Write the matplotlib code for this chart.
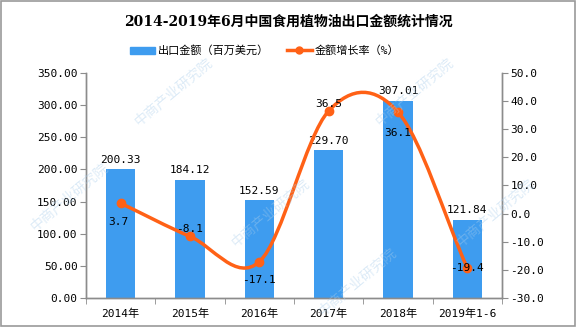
import matplotlib
matplotlib.use("Agg")
import matplotlib.pyplot as plt
from matplotlib.path import Path
from matplotlib.patches import PathPatch, Rectangle
from matplotlib.lines import Line2D
import numpy as np

plt.rcParams['font.family'] = ['DejaVu Sans Mono', 'Noto Sans CJK SC']

categories = ["2014年", "2015年", "2016年", "2017年", "2018年", "2019年1-6"]
export_value = [200.33, 184.12, 152.59, 229.70, 307.01, 121.84]
growth_rate = [3.7, -8.1, -17.1, 36.5, 36.1, -19.4]
left_ticks = [0, 50, 100, 150, 200, 250, 300, 350]
right_ticks = [-30, -20, -10, 0, 10, 20, 30, 40, 50]

bar_color = "#3E9CEF"
line_color = "#FF6116"
axis_color = "#8C8C8C"
fs = 8

fig = plt.figure(figsize=(5.76, 3.27), dpi=100)
ax = fig.add_axes([0.1493, 0.0887, 0.7222, 0.6881])
ax2 = ax.twinx()

x = np.arange(len(categories))
ax.bar(x, export_value, width=0.42, color=bar_color, zorder=2)
for xi, v in zip(x, export_value):
    ax.annotate(f"{v:.2f}", (xi, v), xytext=(0, 3), textcoords="offset points",
                ha="center", va="bottom", fontsize=fs)

ax.set_xlim(-0.5, len(categories) - 0.5)
ax.set_ylim(0, 350)
ax.set_yticks(left_ticks)
ax.set_yticklabels([f"{t:.2f}" for t in left_ticks], fontsize=fs)
ax.set_xticks(x)
ax.set_xticklabels(categories, fontsize=fs)
ax.set_xticks(np.arange(-0.5, len(categories)), minor=True)
ax.tick_params(axis="x", which="major", length=0, pad=8)
ax.tick_params(axis="x", which="minor", length=4, color=axis_color, direction="out")
ax.tick_params(axis="y", length=4, color=axis_color, direction="out", pad=2)

ax2.set_ylim(-30, 50)
ax2.set_yticks(right_ticks)
ax2.set_yticklabels([f"{t:.1f}" for t in right_ticks], fontsize=fs)
ax2.tick_params(axis="y", length=4, color=axis_color, direction="out", pad=2)

for a in (ax, ax2):
    a.spines["top"].set_visible(False)
    for s in ("left", "right", "bottom"):
        a.spines[s].set_color(axis_color)
        a.spines[s].set_linewidth(1.0)

# Smoothed growth-rate curve as cubic Bezier segments (Catmull-Rom tangents)
n = len(growth_rate)
g = np.array(growth_rate, dtype=float)
tang = np.zeros(n)
for i in range(n):
    lo = max(i - 1, 0)
    hi = min(i + 1, n - 1)
    tang[i] = (g[hi] - g[lo]) / (hi - lo)
verts = [(x[0], g[0])]
codes = [Path.MOVETO]
for i in range(n - 1):
    verts += [(x[i] + 1 / 3, g[i] + tang[i] / 3),
              (x[i + 1] - 1 / 3, g[i + 1] - tang[i + 1] / 3),
              (x[i + 1], g[i + 1])]
    codes += [Path.CURVE4] * 3
ax2.add_patch(PathPatch(Path(verts, codes), facecolor="none", edgecolor=line_color,
                        lw=2.5, zorder=3, capstyle="round"))
ax2.plot(x, growth_rate, ls="none", marker="o", ms=6, color=line_color, zorder=4)

# value labels of the growth rate
offsets = {0: (-2, -13.5), 1: (0, 5.5), 2: (0, -13), 3: (0, 5), 4: (0, -15), 5: (0, 0)}
for i, (xi, v) in enumerate(zip(x, growth_rate)):
    dx, dy = offsets[i]
    ax2.annotate(f"{v:.1f}", (xi, v), xytext=(dx, dy), textcoords="offset points",
                 ha="center", va="center", fontsize=fs, zorder=5)

# title and legend
fig.text(0.5, 0.935, "2014-2019年6月中国食用植物油出口金额统计情况",
         ha="center", va="center", fontsize=10, fontweight="bold",
         family=['DejaVu Serif', 'Noto Sans CJK SC'])
handles = [Rectangle((0, 0), 1, 1, color=bar_color),
           Line2D([0], [0], color=line_color, lw=2.5, marker="o", ms=5)]
fig.legend(handles, ["出口金额（百万美元）", "金额增长率（%）"], loc="center",
           bbox_to_anchor=(0.46, 0.845), ncol=2, frameon=False, fontsize=fs,
           handlelength=2.2, handleheight=0.6, columnspacing=1.6, handletextpad=0.3)

# watermark
for wx, wy in [(0.12, 0.4), (0.3, 0.72), (0.47, 0.35), (0.72, 0.72), (0.86, 0.35), (0.62, 0.14)]:
    fig.text(wx, wy, "中商产业研究院", rotation=40, fontsize=10, color="#A9CDEB",
             alpha=0.4, ha="center", va="center", family="Noto Sans CJK SC", zorder=0)

# outer frame
fig.add_artist(Rectangle((0.001, 0.002), 0.997, 0.995, transform=fig.transFigure,
                         fill=False, edgecolor="#9A9A9A", lw=1.2))

fig.savefig("out.png", dpi=100)
